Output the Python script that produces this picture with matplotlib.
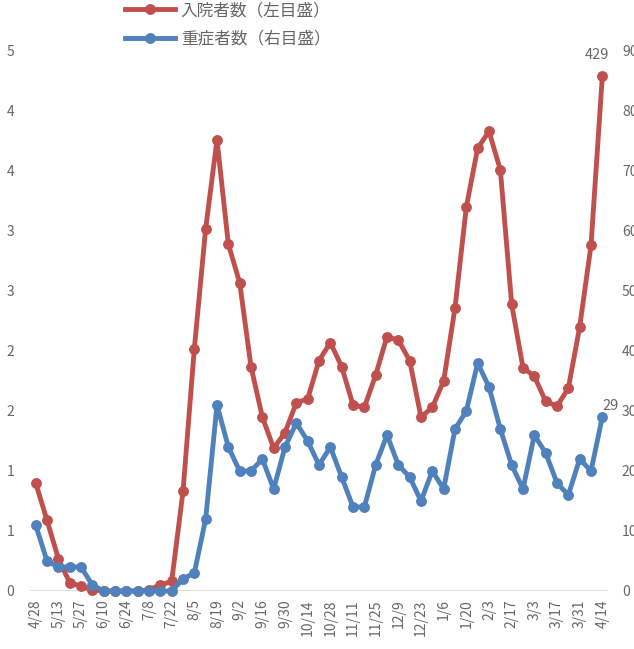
import matplotlib
matplotlib.use('Agg')
import matplotlib.pyplot as plt
from matplotlib.ticker import FuncFormatter

plt.rcParams['font.family'] = ['Noto Sans CJK JP', 'DejaVu Sans']

dates = ['4/28', '5/6', '5/13', '5/20', '5/27', '6/3', '6/10', '6/17', '6/24', '7/1',
         '7/8', '7/15', '7/22', '7/29', '8/5', '8/12', '8/19', '8/26', '9/2', '9/9',
         '9/16', '9/23', '9/30', '10/7', '10/14', '10/21', '10/28', '11/4', '11/11', '11/18',
         '11/25', '12/2', '12/9', '12/16', '12/23', '12/30', '1/6', '1/13', '1/20', '1/27',
         '2/3', '2/10', '2/17', '2/24', '3/3', '3/10', '3/17', '3/24', '3/31', '4/7', '4/14']

# 入院者数 (left axis)
hospitalized = [90, 59, 27, 7, 4, 1, 0, 0, 0, 0,
                1, 5, 8, 83, 202, 302, 376, 289, 257, 187,
                145, 119, 132, 157, 160, 192, 207, 187, 155, 153,
                180, 212, 209, 192, 145, 153, 175, 236, 320, 369,
                383, 351, 239, 186, 179, 158, 154, 169, 220, 288, 429]

# 重症者数 (right axis)
severe = [11, 5, 4, 4, 4, 1, 0, 0, 0, 0,
          0, 0, 0, 2, 3, 12, 31, 24, 20, 20,
          22, 17, 24, 28, 25, 21, 24, 19, 14, 14,
          21, 26, 21, 19, 15, 20, 17, 27, 30, 38,
          34, 27, 21, 17, 26, 23, 18, 16, 22, 20, 29]

red = '#C0504D'
blue = '#4F81BD'
txt = '#666666'

W, H = 634, 649
fig = plt.figure(figsize=(W / 100, H / 100), dpi=100)
ax = fig.add_axes([30 / W, (H - 591) / H, (608 - 30) / W, (591 - 51) / H])
ax2 = ax.twinx()

x = list(range(len(dates)))
l1, = ax.plot(x, hospitalized, color=red, lw=3.5, marker='o', ms=6.8,
              solid_joinstyle='round', label='入院者数（左目盛）', clip_on=False, zorder=3)
l2, = ax2.plot(x, severe, color=blue, lw=3.5, marker='o', ms=6.8,
               solid_joinstyle='round', label='重症者数（右目盛）', clip_on=False, zorder=3)

ax.set_ylim(0, 450)
ax.set_yticks(range(0, 451, 50))
ax.yaxis.set_major_formatter(FuncFormatter(lambda v, p: str(int(v / 100 + 0.5))))
ax2.set_ylim(0, 90)
ax2.set_yticks(range(0, 91, 10))
ax.set_xlim(-0.5, len(dates) - 0.5)

ax.set_xticks(x[::2])
ax.set_xticklabels(dates[::2], rotation=90)

for a in (ax, ax2):
    for s in a.spines.values():
        s.set_visible(False)
    a.tick_params(length=0, colors=txt, labelsize=10)
ax.tick_params(axis='y', pad=17)
ax.tick_params(axis='x', pad=6)
for lab in ax.get_yticklabels():
    lab.set_horizontalalignment('left')
ax2.tick_params(axis='y', pad=10)

ax.axhline(0, color='#D9D9D9', lw=1.2, zorder=1)

ax.annotate(str(hospitalized[-1]), (x[-1], hospitalized[-1]), xytext=(-4, 10),
            textcoords='offset points', ha='center', va='bottom', color=txt, fontsize=10.5)
ax2.annotate(str(severe[-1]), (x[-1], severe[-1]), xytext=(6, 3),
             textcoords='offset points', ha='center', va='bottom', color=txt, fontsize=10.5)

fig.legend(handles=[l1, l2], loc='upper left', bbox_to_anchor=(110 / W, 1.02),
           frameon=False, handlelength=3.0, labelspacing=0.7, fontsize=12,
           labelcolor=txt, handletextpad=0.35)

fig.savefig('out.png', dpi=100)
